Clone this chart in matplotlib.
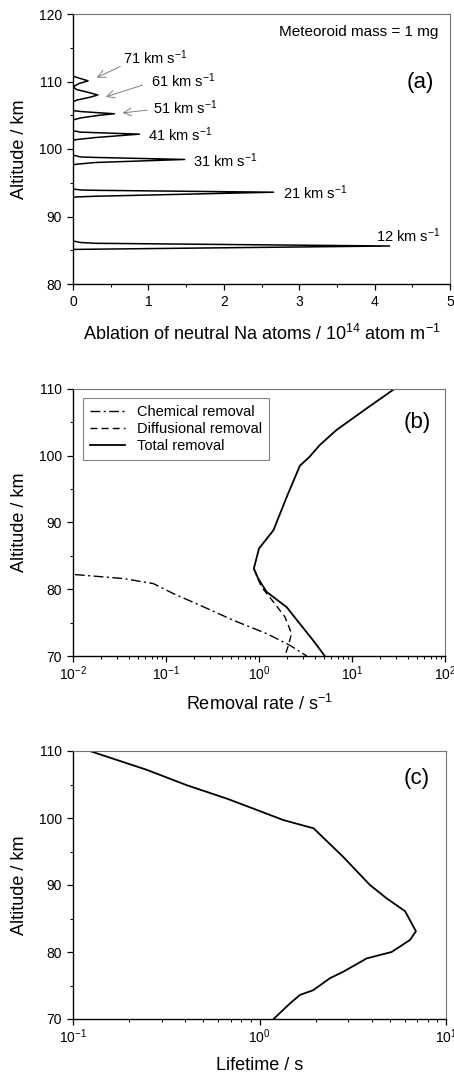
import matplotlib
matplotlib.use("Agg")
import matplotlib.pyplot as plt
from matplotlib.ticker import MultipleLocator, LogLocator, NullFormatter

plt.rcParams['font.family'] = ['Liberation Sans', 'DejaVu Sans']
plt.rcParams['mathtext.fontset'] = 'custom'
plt.rcParams['mathtext.rm'] = 'Liberation Sans'
plt.rcParams['mathtext.it'] = 'Liberation Sans:italic'
plt.rcParams['mathtext.bf'] = 'Liberation Sans:bold'

# ---------------- Panel (a): ablation profiles ----------------
velocities = ["12", "21", "31", "41", "51", "61", "71"]
alt_12 = [86.37, 86.15, 86.03, 85.63, 85.16, 85.12]
abl_12 = [0.0, 0.1, 0.3, 4.2, 0.3, 0.0]
alt_21 = [94.08, 93.93, 93.88, 93.60, 93.00, 92.90, 92.85]
abl_21 = [0.0, 0.1, 0.3, 2.66, 0.3, 0.05, 0.0]
alt_31 = [99.10, 98.82, 98.75, 98.45, 98.00, 97.75, 97.65]
abl_31 = [0.0, 0.1, 0.3, 1.48, 0.3, 0.05, 0.0]
alt_41 = [102.70, 102.50, 102.42, 102.20, 101.70, 101.40, 101.30]
abl_41 = [0.0, 0.1, 0.3, 0.88, 0.3, 0.05, 0.0]
alt_51 = [105.70, 105.55, 105.40, 105.22, 105.00, 104.60, 104.30]
abl_51 = [0.0, 0.1, 0.3, 0.55, 0.35, 0.1, 0.0]
alt_61 = [109.20, 108.80, 108.40, 108.00, 107.60, 107.25, 107.00]
abl_61 = [0.0, 0.05, 0.2, 0.33, 0.2, 0.05, 0.0]
alt_71 = [110.80, 110.50, 110.10, 109.70, 109.20]
abl_71 = [0.0, 0.08, 0.20, 0.08, 0.0]

label_x = [4.02, 2.78, 1.59, 1.00, 1.06, 1.04, 0.66]
label_y = [87.1, 93.5, 98.2, 102.1, 106.1, 110.1, 113.5]
arrow_from_x = [0.96, 1.02, 0.66]
arrow_from_y = [109.6, 105.8, 112.4]
arrow_to_x = [0.40, 0.62, 0.28]
arrow_to_y = [107.6, 105.3, 110.4]

# ---------------- Panel (b): removal rates ----------------
tot_alt = [110.0, 107.1, 103.85, 101.6, 99.85, 98.5, 93.85, 88.85, 86.1, 83.1, 81.6, 79.6, 77.3, 74.8, 72.3, 70.0]
tot_rate = [28.5, 14.4, 6.8, 4.5, 3.5, 2.75, 1.99, 1.43, 1.0, 0.88, 0.98, 1.21, 1.99, 2.76, 3.84, 5.1]
dif_alt = [83.1, 81.6, 80.3, 78.1, 75.85, 73.35, 71.6, 70.0]
dif_rate = [0.88, 0.97, 1.07, 1.43, 1.9, 2.24, 2.07, 1.9]
chem_alt = [82.2, 81.6, 80.85, 79.35, 77.6, 75.35, 73.35, 71.6, 70.0]
chem_rate = [0.0105, 0.035, 0.073, 0.12, 0.232, 0.53, 1.21, 2.15, 3.26]

# ---------------- Panel (c): lifetime ----------------
life_alt = [110.0, 107.2, 104.9, 102.9, 101.4, 99.7, 98.46, 94.2, 90.0, 88.0, 86.1, 83.1, 81.8, 80.0, 79.05,
            77.05, 76.1, 74.3, 73.6, 72.35, 70.0]
life_val = [0.123, 0.248, 0.407, 0.667, 0.927, 1.34, 1.95, 2.81, 3.91, 4.81, 6.03, 6.9, 6.41, 5.11, 3.76,
            2.81, 2.39, 1.94, 1.65, 1.46, 1.19]

W, H = 454, 1077
fig = plt.figure(figsize=(W / 100, H / 100), dpi=100)

def px_axes(l, r, t, b):
    return fig.add_axes([l / W, (H - b) / H, (r - l) / W, (b - t) / H])

axA = px_axes(73, 450, 14, 284)
axB = px_axes(73, 445, 389, 656)
axC = px_axes(73, 446, 751, 1019)

TICK_FS = 10
LAB_FS = 13
ANN_FS = 10.5

def style(ax, xpad=4):
    for s in ['left', 'bottom']:
        ax.spines[s].set_linewidth(1.0)
        ax.spines[s].set_color('black')
    for s in ['top', 'right']:
        ax.spines[s].set_linewidth(0.8)
        ax.spines[s].set_color('0.45')
    ax.tick_params(which='major', direction='out', length=4, width=0.9, labelsize=TICK_FS, pad=4)
    ax.tick_params(axis='x', which='major', pad=xpad)
    ax.tick_params(which='minor', direction='out', length=2.5, width=0.7)
    ax.tick_params(top=False, right=False)

# Panel (a)
profiles = [(alt_12, abl_12), (alt_21, abl_21), (alt_31, abl_31), (alt_41, abl_41),
            (alt_51, abl_51), (alt_61, abl_61), (alt_71, abl_71)]
for a, v in profiles:
    axA.plot(v, a, color='black', lw=1.1)
axA.plot([0, 0], [80, 120], color='black', lw=1.1)
axA.set_xlim(0, 5)
axA.set_ylim(80, 120)
axA.xaxis.set_major_locator(MultipleLocator(1))
axA.xaxis.set_minor_locator(MultipleLocator(0.5))
axA.yaxis.set_major_locator(MultipleLocator(10))
axA.yaxis.set_minor_locator(MultipleLocator(5))
style(axA)
for vel, lx, ly in zip(velocities, label_x, label_y):
    axA.text(lx, ly, vel + r" km s$^{\mathregular{-1}}$", fontsize=ANN_FS, ha='left', va='center')
for fx, fy, tx, ty in zip(arrow_from_x, arrow_from_y, arrow_to_x, arrow_to_y):
    axA.annotate("", xy=(tx, ty), xytext=(fx, fy),
                 arrowprops=dict(arrowstyle='->', color='0.5', lw=0.7, mutation_scale=14))
axA.text(0.968, 0.933, "Meteoroid mass = 1 mg", transform=axA.transAxes, fontsize=11,
         ha='right', va='center')
axA.text(0.92, 0.748, "(a)", transform=axA.transAxes, fontsize=16, ha='center', va='center')
axA.set_xlabel(r"Ablation of neutral Na atoms / 10$^{\mathregular{14}}$ atom m$^{\mathregular{-1}}$",
               fontsize=LAB_FS, labelpad=11)
axA.set_ylabel("Altitude / km", fontsize=LAB_FS, labelpad=8)

# Panel (b)
axB.plot(chem_rate, chem_alt, color='black', lw=1.0, dashes=(7, 2.5, 1.5, 2.5), label='Chemical removal')
axB.plot(dif_rate, dif_alt, color='black', lw=1.0, dashes=(5, 3), label='Diffusional removal')
axB.plot(tot_rate, tot_alt, color='black', lw=1.3, label='Total removal')
axB.set_xscale('log')
axB.set_xlim(1e-2, 1e2)
axB.set_ylim(70, 110)
axB.yaxis.set_major_locator(MultipleLocator(10))
axB.yaxis.set_minor_locator(MultipleLocator(5))
axB.xaxis.set_minor_locator(LogLocator(base=10, subs=range(2, 10)))
axB.xaxis.set_minor_formatter(NullFormatter())
style(axB, xpad=2)
leg = axB.legend(loc='upper left', bbox_to_anchor=(0.027, 0.966), borderaxespad=0,
                 fontsize=10.5, frameon=True, fancybox=False, edgecolor='0.4',
                 handlelength=2.4, labelspacing=0.2, borderpad=0.5, handletextpad=0.8)
leg.get_frame().set_linewidth(0.8)
axB.text(0.925, 0.873, "(b)", transform=axB.transAxes, fontsize=16, ha='center', va='center')
axB.set_xlabel(r"Removal rate / s$^{\mathregular{-1}}$", fontsize=LAB_FS, labelpad=8)
axB.set_ylabel("Altitude / km", fontsize=LAB_FS, labelpad=8)

# Panel (c)
axC.plot(life_val, life_alt, color='black', lw=1.3)
axC.set_xscale('log')
axC.set_xlim(1e-1, 1e1)
axC.set_ylim(70, 110)
axC.yaxis.set_major_locator(MultipleLocator(10))
axC.yaxis.set_minor_locator(MultipleLocator(5))
axC.xaxis.set_minor_locator(LogLocator(base=10, subs=range(2, 10)))
axC.xaxis.set_minor_formatter(NullFormatter())
style(axC, xpad=2)
axC.text(0.922, 0.899, "(c)", transform=axC.transAxes, fontsize=16, ha='center', va='center')
axC.set_xlabel("Lifetime / s", fontsize=LAB_FS, labelpad=8)
axC.set_ylabel("Altitude / km", fontsize=LAB_FS, labelpad=8)

fig.savefig("out.png", dpi=100)
